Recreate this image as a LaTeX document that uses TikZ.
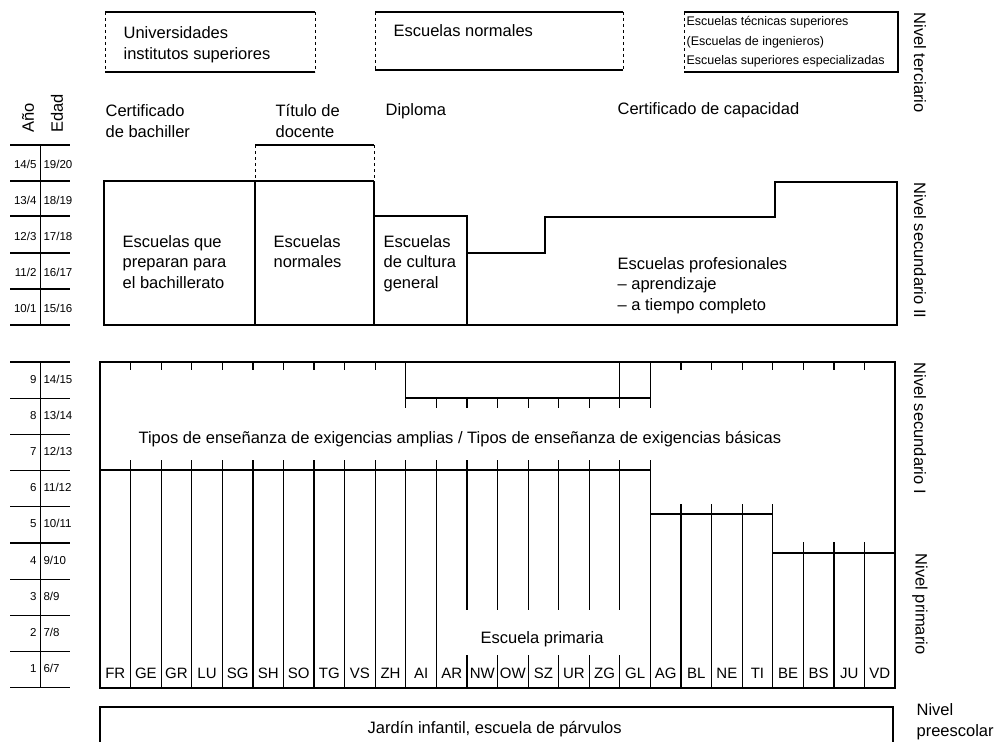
\documentclass[tikz,border=0pt]{standalone}
\usepackage{fontspec}
\setmainfont{Liberation Sans}
\begin{document}
\begin{tikzpicture}[x=1pt,y=-1pt,line width=1.2pt,
  every node/.style={inner sep=0pt,font=\fontsize{16.5}{20.5}\selectfont},
  txt/.style={anchor=base west,align=left},
  lvl/.style={rotate=-90,anchor=west},
  num/.style={font=\fontsize{11.5}{13}\selectfont},
  small/.style={font=\fontsize{12.5}{19.5}\selectfont},
  canton/.style={anchor=base,font=\fontsize{15}{18}\selectfont},
  cut/.style={dashed,line width=0.9pt}]
\useasboundingbox (0,0) rectangle (995,741);

\draw (105,12) -- (315,12) (105,72) -- (315,72);
\draw [cut] (105,12) -- (105,72) (315,12) -- (315,72);
\draw (375,12) -- (623,12) (375,70) -- (623,70);
\draw [cut] (375,12) -- (375,70) (623,12) -- (623,70);
\draw (684,12) -- (898,12) -- (898,72) -- (684,72);
\draw [cut] (684,12) -- (684,72);

\node (uni) at (123,59.5) [txt] {Universidades\\institutos superiores};
\node (norm) at (393,37) [txt] {Escuelas normales};
\node (tec) at (686,65) [txt,small] {Escuelas técnicas superiores\\(Escuelas de ingenieros)\\Escuelas superiores especializadas};
\node (terc) at (920,12) [lvl] {Nivel terciario};

\node (ano) at (28,133) [rotate=90,anchor=west] {Año};
\node (edad) at (57,133) [rotate=90,anchor=west] {Edad};
\node (cbach) at (105,137) [txt] {Certificado\\de bachiller};
\node (tdoc) at (275,137) [txt] {Título de\\docente};
\node (dipl) at (385,116) [txt] {Diploma};
\node (ccap) at (617,115) [txt] {Certificado de capacidad};

\draw (374,181) -- (374,216) -- (467,216) -- (467,253) -- (545,253) -- (545,217) -- (775,217) -- (775,182) -- (897,182) -- (897,325) -- (104,325) -- (104,181) -- (255,181);
\draw (255,145) -- (374,145);
\draw [cut] (255,145) -- (255,181) (374,145) -- (374,181);
\draw (255,181) -- (374,181) (255,181) -- (255,325) (374,216) -- (374,325) (467,253) -- (467,325);

\node (bach) at (122,288) [txt] {Escuelas que\\preparan para\\el bachillerato};
\node (snorm) at (273,267.5) [txt] {Escuelas\\normales};
\node (cult) at (383,288) [txt] {Escuelas\\de cultura\\general};
\node (prof) at (617,310) [txt] {Escuelas profesionales\\-- aprendizaje\\-- a tiempo completo};
\node (sec2) at (920,182) [lvl] {Nivel secundario II};

\foreach \y in {145,181,216,253,289,325} \draw (10,\y) -- (70,\y);
\draw [line width=0.8pt] (40,145) -- (40,325);
\foreach \i in {1,...,5} {
  \pgfmathtruncatemacro\ya{15-\i}
  \pgfmathtruncatemacro\yb{6-\i}
  \pgfmathtruncatemacro\ea{20-\i}
  \pgfmathtruncatemacro\eb{21-\i}
  \node (a\i) at (37,{145+36*(\i-1)+23}) [num,anchor=base east] {\ya/\yb};
  \node (e\i) at (43,{145+36*(\i-1)+23}) [num,anchor=base west] {\ea/\eb};
}

\foreach \k in {0,...,9} \draw (10,{362+36.2*\k}) -- (70,{362+36.2*\k});
\draw [line width=0.8pt] (40,362) -- (40,688);
\foreach \i in {1,...,9} {
  \pgfmathtruncatemacro\ya{10-\i}
  \pgfmathtruncatemacro\ea{15-\i}
  \pgfmathtruncatemacro\eb{16-\i}
  \node (b\i) at (37,{362+36.2*(\i-1)+21}) [num,anchor=base east] {\ya};
  \node (f\i) at (43,{362+36.2*(\i-1)+21}) [num,anchor=base west] {\ea/\eb};
}

\draw (100,362) rectangle (895,688);
\draw ({100+30.58*10},362) -- ({100+30.58*10},408) ({100+30.58*10},398) -- ({100+30.58*18},398);
\draw ({100+30.58*17},362) -- ({100+30.58*17},408) ({100+30.58*18},362) -- ({100+30.58*18},408);
\foreach \i in {11,...,16} \draw ({100+30.58*\i},398) -- ({100+30.58*\i},408);
\foreach \i in {1,...,9,19,20,21,22,23,24,25} \draw ({100+30.58*\i},362) -- ({100+30.58*\i},370);
\draw (100,470) -- ({100+30.58*18},470);
\foreach \i in {1,...,11,18} \draw ({100+30.58*\i},460) -- ({100+30.58*\i},688);
\foreach \i in {12,...,17} \draw ({100+30.58*\i},460) -- ({100+30.58*\i},610) ({100+30.58*\i},655) -- ({100+30.58*\i},688);
\draw ({100+30.58*18},514) -- ({100+30.58*22},514);
\foreach \i in {19,...,22} \draw ({100+30.58*\i},504) -- ({100+30.58*\i},688);
\draw ({100+30.58*22},553) -- (895,553);
\foreach \i in {23,24,25} \draw ({100+30.58*\i},542) -- ({100+30.58*\i},688);

\node (tipos) at (138,443) [txt] {Tipos de enseñanza de exigencias amplias / Tipos de enseñanza de exigencias básicas};
\node (prim) at (480,643) [txt] {Escuela primaria};
\foreach \c [count=\i] in {FR,GE,GR,LU,SG,SH,SO,TG,VS,ZH,AI,AR,NW,OW,SZ,UR,ZG,GL,AG,BL,NE,TI,BE,BS,JU,VD}
  \node (\c) at ({100+30.58*(\i-0.5)},678) [canton] {\c};
\node (sec1) at (920,362) [lvl] {Nivel secundario I};
\node (primn) at (920,553) [lvl] {Nivel primario};

\draw (100,750) -- (100,707) -- (893,707) -- (893,750);
\node (jard) at (367,733) [txt] {Jardín infantil, escuela de párvulos};
\node (pre) at (916,736) [txt] {Nivel\\preescolar};

\end{tikzpicture}
\end{document}
